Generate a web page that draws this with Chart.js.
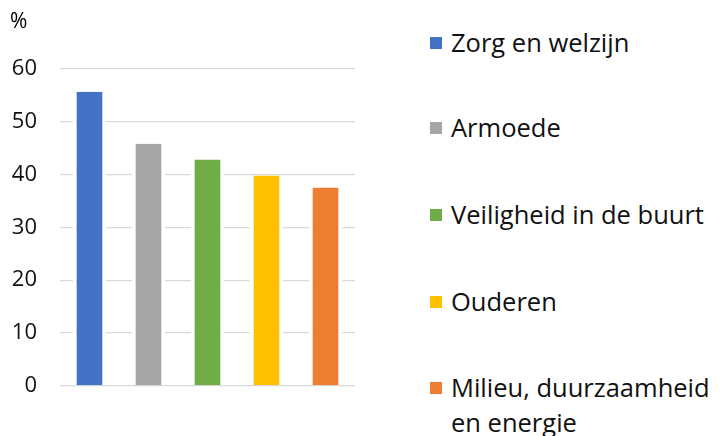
<!DOCTYPE html>
<html>
<head>
<meta charset="utf-8">
<script src="https://cdn.jsdelivr.net/npm/chart.js@4.4.0/dist/chart.umd.min.js"></script>
<style>
  body { margin: 0; background: #fff; font-family: 'Open Sans', sans-serif; }
  #wrap { position: relative; width: 728px; height: 436px; }
  #chartBox { position: absolute; left: 0; top: 0; width: 380px; height: 436px; }
  #unit { position: absolute; left: 10px; top: 6px; font-size: 21px; color: #000; }
  #legend { position: absolute; left: 430px; top: 0; }
  .item { position: absolute; left: 0; white-space: nowrap; font-size: 25.5px; color: #111; line-height: 35px; }
  .box { position: absolute; left: 0; top: 12px; width: 12px; height: 12px; }
  .txt { position: absolute; left: 21px; top: 0; }
</style>
</head>
<body>
<div id="wrap">
  <div id="chartBox"><canvas id="myChart"></canvas></div>
  <div id="unit">%</div>
  <div id="legend"></div>
</div>
<script>
'use strict';
let categories = ['Zorg en welzijn', 'Armoede', 'Veiligheid in de buurt', 'Ouderen', 'Milieu, duurzaamheid en energie'];
let legendLines = [['Zorg en welzijn'], ['Armoede'], ['Veiligheid in de buurt'], ['Ouderen'], ['Milieu, duurzaamheid', 'en energie']];
let values = [55.6, 45.8, 42.8, 39.8, 37.5];
let colors = ['#4472C4', '#A5A5A5', '#70AD47', '#FFC000', '#ED7D31'];
let yTicks = [0, 10, 20, 30, 40, 50, 60];

// legend on the right, made by hand
let legend = document.getElementById('legend');
let legendY = [43, 128, 215, 302, 388];
for (let i = 0; i < categories.length; i++) {
    let item = document.createElement('div');
    item.className = 'item';
    item.style.top = (legendY[i] - 18) + 'px';
    let box = document.createElement('div');
    box.className = 'box';
    box.style.background = colors[i];
    item.appendChild(box);
    let txt = document.createElement('div');
    txt.className = 'txt';
    txt.innerHTML = legendLines[i].join('<br>');
    item.appendChild(txt);
    legend.appendChild(item);
}

let ctx = document.getElementById('myChart').getContext('2d');
let myChart = new Chart(ctx, {
    type: 'bar',
    data: {
        labels: categories,
        datasets: [{
            data: values,
            backgroundColor: colors,
            borderColor: '#ffffff',
            borderWidth: { left: 4, right: 4, top: 0, bottom: 0 },
            barPercentage: 0.57,
            categoryPercentage: 1
        }]
    },
    options: {
        responsive: true,
        maintainAspectRatio: false,
        animation: false,
        layout: { padding: { top: 68.5, right: 25, bottom: 50, left: 0 } },
        plugins: { legend: { display: false }, tooltip: { enabled: false } },
        scales: {
            x: { display: false },
            y: {
                min: 0,
                max: 60,
                afterBuildTicks: function (scale) {
                    scale.ticks = yTicks.map(v => ({ value: v }));
                },
                afterFit: function (scale) { scale.width = 60; },
                border: { display: false },
                grid: { color: '#d9d9d9', lineWidth: 1.3, drawTicks: false },
                ticks: {
                    padding: 23,
                    color: '#111',
                    font: { family: 'Open Sans', size: 22 }
                }
            }
        }
    }
});
</script>
</body>
</html>
